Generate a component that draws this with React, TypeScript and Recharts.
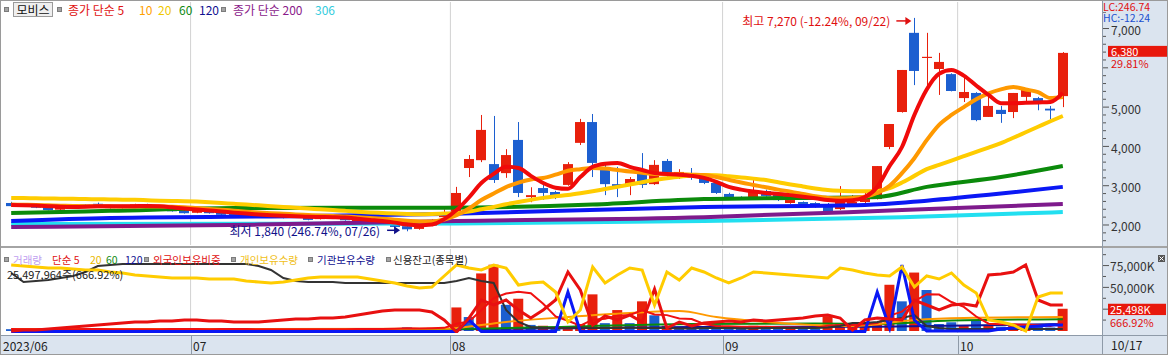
import React from "react";
import {
  ComposedChart,
  Bar,
  Line,
  XAxis,
  YAxis,
  ReferenceLine,
  ReferenceDot,
  Cell,
} from "recharts";

const FONT = "'Noto Sans CJK KR', 'Noto Sans', sans-serif";
const AXIS_BG = "#dbe4ef";
const UP = "#e8200c";
const DOWN = "#1c5fd0";
const AX = 1102; // left edge of the right-hand axis column
const BAND = (1101 - 4 - 33) / 86;

const DATES = [
  "06/12", "06/13", "06/14", "06/15", "06/16", "06/19", "06/20", "06/21", "06/22", "06/23", "06/26", "06/27", "06/28", "06/29", "06/30",
  "07/03", "07/04", "07/05", "07/06", "07/07", "07/10", "07/11", "07/12", "07/13", "07/14", "07/17", "07/18", "07/19", "07/20", "07/21", "07/24", "07/25", "07/26", "07/27", "07/28", "07/31",
  "08/01", "08/02", "08/03", "08/04", "08/07", "08/08", "08/09", "08/10", "08/11", "08/14", "08/16", "08/17", "08/18", "08/21", "08/22", "08/23", "08/24", "08/25", "08/28", "08/29", "08/30", "08/31",
  "09/01", "09/04", "09/05", "09/06", "09/07", "09/08", "09/11", "09/12", "09/13", "09/14", "09/15", "09/18", "09/19", "09/20", "09/21", "09/22", "09/25", "09/26", "09/27",
  "10/04", "10/05", "10/06", "10/10", "10/11", "10/12", "10/13", "10/16", "10/17",
];

const MONTH_STARTS = ["06/12", "07/03", "08/01", "09/01", "10/04"];
const MONTH_NAMES = ["2023/06", "07", "08", "09", "10"];

const OPEN = [
  2560, 2470, 2530, 2450, 2390, 2440, 2520, 2540, 2430, 2430,
  2460, 2530, 2480, 2420, 2370, 2310, 2370, 2330, 2290, 2220,
  2280, 2200, 2250, 2260, 2200, 2150, 2170, 2190, 2060, 2040,
  2090, 2020, 1970, 1900, 1980, 2200, 2255, 3450, 3650, 3550,
  3320, 4165, 2710, 2940, 2840, 3020, 4090, 4620, 3400, 3040,
  3020, 3350, 3040, 3630, 3250, 3320, 3220, 3070, 2790, 2710,
  2710, 2865, 2790, 2560, 2585, 2560, 2535, 2405, 2535, 2585,
  2660, 3985, 4875, 6890, 6250, 5970, 5840, 5230, 5360, 4750,
  4930, 4875, 5260, 5230, 4960, 5280,
];
const HIGH = [
  2590, 2560, 2540, 2460, 2470, 2530, 2530, 2570, 2510, 2510,
  2540, 2540, 2490, 2430, 2380, 2390, 2380, 2340, 2300, 2300,
  2290, 2280, 2260, 2270, 2210, 2230, 2250, 2200, 2140, 2120,
  2100, 2030, 1990, 1980, 2150, 2400, 2970, 3780, 4800, 4775,
  3930, 4620, 2960, 3070, 2870, 3600, 4700, 4825, 3530, 3480,
  3220, 3830, 3650, 3680, 3420, 3450, 3250, 3100, 2820, 2730,
  3145, 2900, 2810, 2660, 2600, 2580, 2560, 2990, 2760, 2830,
  3500, 4570, 5945, 7270, 6890, 6380, 5860, 5770, 5380, 5310,
  5030, 5360, 5435, 5260, 5030, 6400,
];
const LOW = [
  2470, 2460, 2430, 2370, 2380, 2430, 2440, 2450, 2420, 2420,
  2450, 2450, 2400, 2340, 2290, 2300, 2290, 2250, 2210, 2210,
  2200, 2190, 2170, 2180, 2120, 2140, 2160, 2110, 2050, 2030,
  2010, 1940, 1840, 1880, 1970, 2180, 2240, 3220, 3600, 3070,
  3200, 2710, 2580, 2640, 2660, 3000, 4035, 3220, 2760, 2710,
  2760, 2940, 3020, 3200, 3170, 3150, 3040, 2790, 2700, 2640,
  2690, 2720, 2610, 2540, 2510, 2440, 2330, 2380, 2510, 2560,
  2650, 3930, 4860, 5560, 5440, 5310, 5400, 5130, 4640, 4750,
  4600, 4720, 5100, 4920, 4690, 5000,
];
const CLOSE = [
  2480, 2550, 2440, 2380, 2460, 2520, 2450, 2460, 2500, 2500,
  2530, 2460, 2410, 2350, 2300, 2380, 2300, 2260, 2220, 2290,
  2210, 2270, 2180, 2190, 2130, 2220, 2240, 2120, 2130, 2110,
  2020, 1950, 1890, 1970, 2130, 2330, 2815, 3680, 4420, 3145,
  3780, 2815, 2760, 2815, 2710, 3550, 4620, 3580, 3040, 2970,
  3170, 3020, 3530, 3250, 3350, 3220, 3070, 2815, 2710, 2660,
  2890, 2740, 2635, 2635, 2535, 2460, 2355, 2660, 2585, 2690,
  3500, 4570, 5945, 5920, 6280, 6150, 5410, 5385, 4670, 5030,
  4825, 5360, 5435, 5100, 4915, 6380,
];

// price moving averages
const MA5 = [
  2510, 2505, 2495, 2480, 2465, 2460, 2465, 2475, 2475, 2475,
  2480, 2485, 2475, 2450, 2420, 2395, 2370, 2345, 2315, 2290,
  2270, 2250, 2235, 2225, 2210, 2205, 2200, 2190, 2160, 2130,
  2100, 2060, 2010, 1990, 2010, 2150, 2380, 2700, 3070, 3300,
  3480, 3450, 3250, 3070, 2950, 2920, 3220, 3480, 3560, 3580,
  3480, 3400, 3320, 3300, 3280, 3250, 3200, 3100, 2970, 2900,
  2850, 2815, 2790, 2760, 2720, 2680, 2635, 2620, 2630, 2710,
  2970, 3500, 3985, 4800, 5450, 5850, 5945, 5800, 5550, 5310,
  5100, 5100, 5110, 5120, 5130, 5360,
];
const MA10 = [
  2520, 2515, 2510, 2500, 2490, 2485, 2480, 2478, 2475, 2472,
  2470, 2470, 2468, 2462, 2450, 2430, 2410, 2390, 2365, 2340,
  2320, 2300, 2285, 2270, 2255, 2240, 2228, 2215, 2200, 2180,
  2160, 2135, 2110, 2090, 2090, 2140, 2250, 2420, 2635, 2800,
  2965, 3080, 3160, 3195, 3280, 3380, 3420, 3450, 3440, 3400,
  3360, 3330, 3300, 3290, 3290, 3280, 3270, 3220, 3150, 3080,
  3020, 2960, 2900, 2850, 2790, 2730, 2690, 2680, 2690, 2720,
  2815, 3000, 3320, 3700, 4160, 4550, 4800, 5000, 5200, 5350,
  5450, 5510, 5450, 5380, 5230, 5260,
];
const MA20 = [
  2690, 2685, 2680, 2675, 2670, 2665, 2660, 2655, 2650, 2645,
  2640, 2630, 2620, 2612, 2605, 2595, 2580, 2560, 2540, 2520,
  2500, 2480, 2460, 2440, 2420, 2400, 2380, 2360, 2340, 2320,
  2305, 2290, 2280, 2275, 2280, 2290, 2300, 2340, 2400, 2460,
  2530, 2585, 2640, 2690, 2730, 2765, 2810, 2860, 2915, 2970,
  3030, 3090, 3145, 3190, 3230, 3260, 3270, 3265, 3240, 3210,
  3180, 3145, 3090, 3030, 2980, 2930, 2890, 2870, 2860, 2860,
  2865, 2940, 3080, 3250, 3420, 3530, 3640, 3750, 3860, 3970,
  4085, 4220, 4360, 4500, 4640, 4775,
];
// long averages: [day index, value] read at a few points
const MA60_PTS = [[0, 2305], [8, 2360], [18, 2433], [35, 2440], [47, 2520], [56, 2660], [70, 2713], [74, 2970], [80, 3220], [85, 3500]];
const MA120_PTS = [[0, 2100], [8, 2180], [24, 2230], [35, 2280], [56, 2460], [69, 2510], [74, 2620], [80, 2800], [85, 2970]];
const MA200_PTS = [[0, 1950], [20, 2010], [36, 2100], [56, 2200], [72, 2380], [85, 2535]];
const MA306_PTS = [[0, 2025], [36, 2040], [56, 2100], [72, 2200], [85, 2330]];

// volume, thousand shares
const VOLUME = [
  2100, 1800, 2500, 2200, 1600, 2400, 1900, 2800, 1500, 1400,
  2000, 1700, 2200, 2600, 3000, 1800, 1600, 2200, 2900, 1700,
  1900, 1500, 1800, 2000, 2700, 1600, 1800, 2400, 3100, 2200,
  2000, 3400, 4200, 2800, 3600, 4000, 27000, 16000, 66000, 76000,
  30000, 37000, 7000, 6000, 4000, 5000, 8000, 42000, 9000, 24000,
  9000, 34000, 18000, 6000, 5000, 6000, 5000, 7000, 4000, 3000,
  6000, 4000, 4000, 3000, 3000, 3000, 17000, 8000, 4000, 6000,
  10000, 53000, 34000, 67000, 47000, 8000, 10000, 6000, 12000, 6000,
  5000, 7000, 6000, 5000, 4000, 25498,
];
const VOL_DIR = "BRBBRRBBRRRBBBBRBBBRBRBBBRRBRRBBBRRRRBRRBRBRBRRRBRBRBRBBBBBBRBBRBBRRRRRRBRBBBRBRBRRBBR";
const VOL_MA5 = [
  2200, 2100, 2100, 2200, 2100, 2100, 2200, 2300, 2100, 2000,
  1900, 1900, 2000, 2200, 2300, 2200, 2100, 2300, 2300, 2200,
  2100, 2000, 1900, 1900, 2000, 1900, 2000, 2000, 2300, 2300,
  2300, 2600, 3100, 3000, 3200, 3600, 8200, 10900, 23800, 37800,
  43000, 45000, 43200, 31200, 16800, 11800, 6000, 13000, 14000, 17600,
  18400, 23600, 19000, 18200, 14400, 13800, 8000, 5800, 5400, 5000,
  5000, 4800, 4400, 4000, 3800, 3600, 6000, 7000, 7000, 7600,
  9000, 17600, 22200, 34000, 42200, 41800, 33200, 27600, 16600, 8400,
  7800, 7600, 7200, 6800, 5600, 9500,
];
const VOL_MA20_PTS = [[0, 2300], [35, 2500], [38, 7000], [40, 10300], [45, 16000], [50, 20600], [54, 22900], [57, 16000], [61, 10300], [68, 5700], [73, 12600], [77, 14900], [85, 16000]];
const VOL_MA60_PTS = [[0, 1500], [35, 2300], [45, 5000], [55, 8000], [65, 8500], [70, 8000], [76, 12000], [85, 13500]];
const VOL_MA120_PTS = [[0, 1200], [35, 1800], [55, 4500], [70, 5000], [85, 8000]];

// foreign ownership ratio, %
const FOREIGN = [
  0.1, 0.15, 0.15, 0.2, 0.25, 0.3, 0.35, 0.4, 0.45, 0.5,
  0.55, 0.55, 0.6, 0.6, 0.65, 0.65, 0.6, 0.6, 0.55, 0.55,
  0.55, 0.6, 0.65, 0.7, 0.7, 0.75, 0.75, 0.8, 0.9, 1.0,
  1.1, 1.15, 1.15, 1.15, 1.05, 0.65, 0.05, 0.75, 1.65, 1.4,
  1.65, 1.15, 0.75, 1.15, 1.65, 3.05, 2.15, 0.4, 0.85, 0.65,
  0.9, 0.55, 2.2, 0.25, 0.55, 0.35, 0.5, 0.55, 0.6, 0.55,
  0.65, 0.6, 0.65, 0.7, 0.75, 0.85, 0.9, 0.75, 0.15, 0.65,
  0.75, 0.7, 0.65, 1.65, 1.4, 1.15, 1.4, 1.45, 1.35, 2.9,
  2.95, 3.05, 3.4, 1.65, 1.4, 1.4,
];
// individual holdings, 10k shares
const INDIVIDUAL = [
  1680, 1670, 1660, 1650, 1650, 1640, 1630, 1630, 1610, 1600,
  1580, 1570, 1560, 1550, 1550, 1550, 1540, 1540, 1540, 1520,
  1510, 1500, 1510, 1530, 1550, 1560, 1560, 1560, 1560, 1540,
  1520, 1500, 1470, 1450, 1460, 1570, 1680, 1650, 1630, 1680,
  1650, 1480, 1500, 1510, 1410, 1110, 1230, 1660, 1500, 1580,
  1650, 1630, 1280, 1610, 1530, 1650, 1610, 1550, 1500, 1550,
  1610, 1600, 1590, 1580, 1570, 1560, 1550, 1650, 1630, 1600,
  1580, 1570, 1660, 1460, 1570, 1540, 1600, 1480, 1400, 1130,
  1110, 1080, 1020, 1360, 1400, 1400,
];
// institutional holdings, thousand shares
const INSTITUTION = [
  8, 8, 8, 8, 8, 8, 8, 8, 8, 8,
  8, 8, 8, 8, 8, 8, 8, 8, 8, 8,
  8, 8, 8, 8, 8, 8, 8, 8, 8, 8,
  8, 8, 8, 8, 8, 8, 8, 65, 8, 8,
  8, 8, 8, 8, 8, 205, 8, 8, 8, 8,
  8, 8, 8, 8, 8, 8, 8, 8, 8, 8,
  8, 8, 8, 8, 8, 8, 8, 8, 8, 8,
  205, 25, 340, 65, 10, 10, 10, 10, 10, 10,
  20, 25, 30, 35, 40, 40,
];
// credit balance, thousand shares
const CREDIT = [
  600, 510, 520, 530, 550, 570, 610, 670, 680, 690,
  690, 690, 690, 690, 690, 690, 690, 690, 690, 690,
  670, 630, 550, 520, 510, 510, 510, 500, 500, 500,
  500, 500, 500, 500, 500, 500, 520, 550, 520, 500,
  230, 110, 60, 50, 50, 50, 55, 50, 50, 50,
  55, 50, 50, 50, 45, 45, 50, 50, 50, 45,
  45, 50, 50, 50, 50, 50, 55, 70, 100, 100,
  110, 130, 150, 180, 70, 50, 40, 40, 40, 40,
  40, 40, 40, 40, 40, 40,
];

const PRICE_TICKS = [1600, 1800, 2000, 2200, 2400, 2600, 2800, 3000, 3200, 3400, 3600, 3800, 4000, 4200, 4400, 4600, 4800, 5000, 5200, 5400, 5600, 5800, 6000, 6200, 6400, 6600, 6800, 7000, 7200, 7400, 7600, 6380];
const PRICE_LABELS = [2000, 3000, 4000, 5000, 7000]; // 6,000 sits under the change label
const VOL_TICKS = [12500, 25000, 37500, 50000, 62500, 75000, 87500, 25498];
const VOL_LABELS = [50000, 75000];
const LAST_PRICE = 6380;
const LAST_VOL = 25498;

const rows: any[] = DATES.map((date, i) => ({
  date,
  open: OPEN[i],
  high: HIGH[i],
  low: LOW[i],
  close: CLOSE[i],
  ma5: MA5[i],
  ma10: MA10[i],
  ma20: MA20[i],
  ma60: null,
  ma120: null,
  ma200: null,
  ma306: null,
  vol: VOLUME[i],
  volUp: VOL_DIR[i] === "R",
  volMa5: VOL_MA5[i],
  volMa20: null,
  volMa60: null,
  volMa120: null,
  foreign: FOREIGN[i],
  individual: INDIVIDUAL[i],
  institution: INSTITUTION[i],
  credit: CREDIT[i],
}));
const place = (pts: number[][], key: string) => pts.forEach(([i, v]) => (rows[i][key] = v));
place(MA60_PTS, "ma60");
place(MA120_PTS, "ma120");
place(MA200_PTS, "ma200");
place(MA306_PTS, "ma306");
place(VOL_MA20_PTS, "volMa20");
place(VOL_MA60_PTS, "volMa60");
place(VOL_MA120_PTS, "volMa120");

const Candle = (props: any) => {
  const { x, y, width, height, payload } = props;
  if (!payload) return null;
  const top = Math.min(y, y + height);
  const span = Math.abs(height);
  const { open, high, low, close } = payload;
  const k = span / (high - low || 1);
  const color = close >= open ? UP : DOWN;
  const bTop = top + (high - Math.max(open, close)) * k;
  const bBot = top + (high - Math.min(open, close)) * k;
  const left = Math.round(x);
  const cx = left + Math.floor(width / 2) + 0.5;
  return (
    <g>
      <line x1={cx} x2={cx} y1={top} y2={top + span} stroke={color} strokeWidth={1} />
      <rect x={left} y={bTop} width={width} height={Math.max(1, bBot - bTop)} fill={color} />
    </g>
  );
};

const axisText = { fontFamily: FONT, fontSize: 12, dominantBaseline: "central" as const };
const smallText = { fontFamily: FONT, fontSize: 11, dominantBaseline: "central" as const };

const PriceTick = (props: any) => {
  const { y, payload } = props;
  const v = payload.value;
  if (v === LAST_PRICE) {
    return (
      <g>
        <rect x={AX + 6} y={y - 7} width={60} height={11} fill="#e8180c" />
        <text x={AX + 9} y={y - 2} fill="#fff" {...smallText}>{LAST_PRICE.toLocaleString("en-US")}</text>
        <rect x={AX + 6} y={y + 4} width={60} height={12} fill={AXIS_BG} />
        <text x={AX + 9} y={y + 10.5} fill="#e01010" {...smallText}>29.81%</text>
      </g>
    );
  }
  const major = v % 1000 === 0;
  return (
    <g>
      <line x1={AX} x2={AX + (major ? 7 : 4)} y1={y} y2={y} stroke="#555" />
      {PRICE_LABELS.includes(v) && (
        <text x={AX + 9} y={y + 1} fill="#333" {...axisText}>{v.toLocaleString("en-US")}</text>
      )}
    </g>
  );
};

const VolTick = (props: any) => {
  const { y, payload } = props;
  const v = payload.value;
  if (v === LAST_VOL) {
    return (
      <g>
        <rect x={AX + 6} y={y - 5} width={58} height={11.5} fill="#e8180c" />
        <text x={AX + 8} y={y + 0.5} fill="#fff" {...smallText}>{LAST_VOL.toLocaleString("en-US")}K</text>
        <rect x={AX + 6} y={y + 6.5} width={58} height={12} fill={AXIS_BG} />
        <text x={AX + 8} y={y + 13} fill="#e01010" {...smallText}>666.92%</text>
      </g>
    );
  }
  const major = v % 25000 === 0;
  return (
    <g>
      <line x1={AX} x2={AX + (major ? 7 : 4)} y1={y} y2={y} stroke="#555" />
      {VOL_LABELS.includes(v) && (
        <text x={AX + 8} y={y} fill="#333" {...axisText}>{v.toLocaleString("en-US")}K</text>
      )}
    </g>
  );
};

const DateTick = (props: any) => {
  const { x, payload } = props;
  const i = MONTH_STARTS.indexOf(payload.value);
  const left = x - BAND / 2;
  const lx = Math.round(left) + 0.5;
  return (
    <g>
      {i > 0 && <line x1={lx} x2={lx} y1={87} y2={106} stroke="#8e9aa8" />}
      <text x={i === 0 ? 3 : lx + 1.5} y={96} fill="#222" {...axisText}>{MONTH_NAMES[i]}</text>
    </g>
  );
};

const Note = (props: any) => {
  const { viewBox, text, color, tx, a0, a1, dy } = props;
  const cx = viewBox.x + viewBox.width / 2;
  const cy = viewBox.y + viewBox.height / 2 + dy;
  return (
    <g>
      <text x={cx + tx} y={cy} textAnchor="end" fill={color} {...axisText}>{text}</text>
      <line x1={cx + a0} x2={cx + a1 - 5} y1={cy} y2={cy} stroke={color} strokeWidth={1.5} />
      <polygon points={`${cx + a1},${cy} ${cx + a1 - 6},${cy - 4} ${cx + a1 - 6},${cy + 4}`} fill={color} />
    </g>
  );
};

const Sq = ({ x, y }: { x: number; y: number }) => (
  <div style={{ position: "absolute", left: x, top: y, width: 5, height: 5, background: "#a4a4a4", border: "1px solid #7c7c7c", boxSizing: "border-box" }} />
);

const Tx = ({ x, y, c, s = 12, children }: any) => (
  <div style={{ position: "absolute", left: x, top: y - 7, height: 14, lineHeight: "14px", fontSize: s, color: c, whiteSpace: "nowrap" }}>{children}</div>
);

const grid = MONTH_STARTS.slice(1);

export default function App() {
  return (
    <div style={{ position: "relative", width: 1168, height: 355, background: "#fff", overflow: "hidden", fontFamily: FONT }}>
      <style>{"body{margin:0}"}</style>
      <div style={{ position: "absolute", left: AX, top: 0, width: 66, height: 355, background: AXIS_BG }} />
      <div style={{ position: "absolute", left: 0, top: 336, width: 1168, height: 19, background: AXIS_BG }} />

      <div style={{ position: "absolute", left: 0, top: 0 }}>
        <ComposedChart width={1168} height={246} data={rows} margin={{ top: 2, right: 0, bottom: 1, left: 1 }}>
          <XAxis dataKey="date" hide padding={{ left: 4, right: 33 }} />
          <YAxis
            yAxisId="p"
            orientation="right"
            width={66}
            domain={[1491, 7675]}
            allowDataOverflow
            ticks={PRICE_TICKS}
            interval={0}
            tick={<PriceTick />}
            axisLine={false}
            tickLine={false}
            tickSize={0}
          />
          {grid.map((d) => (
            <ReferenceLine key={d} yAxisId="p" x={d} position="start" stroke="#d2d2d2" />
          ))}
          <Line yAxisId="p" dataKey="ma306" type="monotone" stroke="#22dff0" strokeWidth={4} dot={false} activeDot={false} connectNulls isAnimationActive={false} />
          <Line yAxisId="p" dataKey="ma200" type="monotone" stroke="#7e1a8c" strokeWidth={4} dot={false} activeDot={false} connectNulls isAnimationActive={false} />
          <Line yAxisId="p" dataKey="ma120" type="monotone" stroke="#0a18f5" strokeWidth={4} dot={false} activeDot={false} connectNulls isAnimationActive={false} />
          <Line yAxisId="p" dataKey="ma60" type="monotone" stroke="#0b8a0b" strokeWidth={4} dot={false} activeDot={false} connectNulls isAnimationActive={false} />
          <Line yAxisId="p" dataKey="ma20" type="monotone" stroke="#ffcc00" strokeWidth={4} dot={false} activeDot={false} isAnimationActive={false} />
          <Line yAxisId="p" dataKey="ma10" type="monotone" stroke="#ff9900" strokeWidth={4} dot={false} activeDot={false} isAnimationActive={false} />
          <Line yAxisId="p" dataKey="ma5" type="monotone" stroke="#f00a0a" strokeWidth={4} dot={false} activeDot={false} isAnimationActive={false} />
          <Bar yAxisId="p" dataKey={(d: any) => [d.low, d.high]} barSize={10} shape={<Candle />} isAnimationActive={false} />
          <ReferenceDot
            yAxisId="p"
            x={DATES[73]}
            y={HIGH[73]}
            r={1}
            fill="none"
            stroke="none"
            ifOverflow="visible"
            label={<Note text="최고 7,270 (-12.24%, 09/22)" color="#e01010" tx={-24} a0={-18} a1={-3} dy={3} />}
          />
          <ReferenceDot
            yAxisId="p"
            x={DATES[32]}
            y={LOW[32]}
            r={1}
            fill="none"
            stroke="none"
            ifOverflow="visible"
            label={<Note text="최저 1,840 (246.74%, 07/26)" color="#10108a" tx={-27} a0={-20} a1={-7} dy={-1} />}
          />
        </ComposedChart>
      </div>

      <div style={{ position: "absolute", left: 0, top: 249 }}>
        <ComposedChart width={1168} height={106} data={rows} margin={{ top: 0, right: 0, bottom: 0, left: 1 }}>
          <XAxis
            dataKey="date"
            height={22}
            padding={{ left: 4, right: 33 }}
            ticks={MONTH_STARTS}
            interval={0}
            tick={<DateTick />}
            axisLine={false}
            tickLine={false}
            tickSize={0}
          />
          <YAxis
            yAxisId="v"
            orientation="right"
            width={66}
            domain={[-2300, 94000]}
            allowDataOverflow
            ticks={VOL_TICKS}
            interval={0}
            tick={<VolTick />}
            axisLine={false}
            tickLine={false}
            tickSize={0}
          />
          <YAxis yAxisId="fr" hide domain={[0, 4.2]} allowDataOverflow />
          <YAxis yAxisId="ind" hide domain={[1000, 1840]} allowDataOverflow />
          <YAxis yAxisId="inst" hide domain={[0, 420]} allowDataOverflow />
          <YAxis yAxisId="cred" hide domain={[0, 840]} allowDataOverflow />
          {grid.map((d) => (
            <ReferenceLine key={d} yAxisId="v" x={d} position="start" stroke="#d2d2d2" />
          ))}
          <Bar yAxisId="v" dataKey="vol" barSize={10} isAnimationActive={false}>
            {rows.map((r, i) => (
              <Cell key={i} fill={r.volUp ? UP : DOWN} />
            ))}
          </Bar>
          <Line yAxisId="v" dataKey="volMa120" type="monotone" stroke="#10109a" strokeWidth={2} dot={false} activeDot={false} connectNulls isAnimationActive={false} />
          <Line yAxisId="v" dataKey="volMa60" type="monotone" stroke="#0b8a0b" strokeWidth={2} dot={false} activeDot={false} connectNulls isAnimationActive={false} />
          <Line yAxisId="v" dataKey="volMa20" type="monotone" stroke="#ff9900" strokeWidth={2} dot={false} activeDot={false} connectNulls isAnimationActive={false} />
          <Line yAxisId="v" dataKey="volMa5" type="linear" stroke="#f01010" strokeWidth={2} dot={false} activeDot={false} isAnimationActive={false} />
          <Line yAxisId="cred" dataKey="credit" type="linear" stroke="#333" strokeWidth={2} dot={false} activeDot={false} isAnimationActive={false} />
          <Line yAxisId="inst" dataKey="institution" type="linear" stroke="#0a18f5" strokeWidth={3} dot={false} activeDot={false} isAnimationActive={false} />
          <Line yAxisId="fr" dataKey="foreign" type="linear" stroke="#e81010" strokeWidth={3} dot={false} activeDot={false} isAnimationActive={false} />
          <Line yAxisId="ind" dataKey="individual" type="linear" stroke="#ffcc00" strokeWidth={3} dot={false} activeDot={false} isAnimationActive={false} />
        </ComposedChart>
      </div>

      {/* frame */}
      <div style={{ position: "absolute", left: 0, top: 246, width: 1168, height: 2, background: "#a4a4a4" }} />
      <div style={{ position: "absolute", left: 0, top: 335, width: 1168, height: 1, background: "#8e9aa8" }} />
      <div style={{ position: "absolute", left: AX, top: 0, width: 1, height: 355, background: "#8e9aa8" }} />
      <div style={{ position: "absolute", left: 0, top: 0, width: 1166, height: 353, border: "1px solid #9a9a9a", pointerEvents: "none" }} />

      {/* top legend */}
      <Sq x={4} y={7} />
      <div style={{ position: "absolute", left: 13, top: 2, width: 40, height: 15, border: "1px solid #9a9a9a", background: "#efefef", boxSizing: "border-box", fontSize: 12, lineHeight: "13px", textAlign: "center", color: "#111" }}>모비스</div>
      <Sq x={57} y={7} />
      <Tx x={68} y={10} c="#e01010">종가 단순 5</Tx>
      <Tx x={139} y={10} c="#ffa000">10</Tx>
      <Tx x={158} y={10} c="#f0c800">20</Tx>
      <Tx x={179} y={10} c="#108a10">60</Tx>
      <Tx x={199} y={10} c="#101090">120</Tx>
      <Sq x={221} y={7} />
      <Tx x={233} y={10} c="#8a1a8a">종가 단순 200</Tx>
      <Tx x={315} y={10} c="#33ccdd">306</Tx>

      {/* right axis notes */}
      <div style={{ position: "absolute", left: 1103, top: 2, width: 64, height: 10, lineHeight: "10px", fontSize: 10.5, background: AXIS_BG, color: "#e01010" }}>LC:246.74</div>
      <div style={{ position: "absolute", left: 1103, top: 13, width: 64, height: 11, lineHeight: "10px", fontSize: 10.5, background: AXIS_BG, color: "#1a4fd0" }}>HC:-12.24</div>

      {/* lower legend */}
      <Sq x={4} y={257} />
      <Tx x={13} y={260} c="#c0a0f0" s={10.5}>거래량</Tx>
      <Tx x={52} y={260} c="#e01010" s={10.5}>단순 5</Tx>
      <Tx x={90} y={260} c="#e8b800" s={10.5}>20</Tx>
      <Tx x={106} y={260} c="#108a10" s={10.5}>60</Tx>
      <Tx x={125} y={260} c="#101090" s={10.5}>120</Tx>
      <Sq x={144} y={257} />
      <Tx x={153} y={260} c="#e01010" s={10.5}>외국인보유비중</Tx>
      <Sq x={231} y={257} />
      <Tx x={240} y={260} c="#f0c020" s={10.5}>개인보유수량</Tx>
      <Sq x={308} y={257} />
      <Tx x={317} y={260} c="#101090" s={10.5}>기관보유수량</Tx>
      <Sq x={386} y={257} />
      <Tx x={393} y={260} c="#222" s={10.5}>신용잔고(종목별)</Tx>
      <Tx x={7} y={274} c="#222" s={11}>25,497,964주(666.92%)</Tx>

      <div style={{ position: "absolute", left: 1158, top: 255, width: 7, height: 7, background: "#555" }}>
        <svg width={7} height={7} style={{ display: "block" }}>
          <path d="M1.5 1.5 L5.5 5.5 M5.5 1.5 L1.5 5.5" stroke="#fff" strokeWidth={1} />
        </svg>
      </div>
      <Tx x={1111} y={345} c="#222">10/17</Tx>
    </div>
  );
}
